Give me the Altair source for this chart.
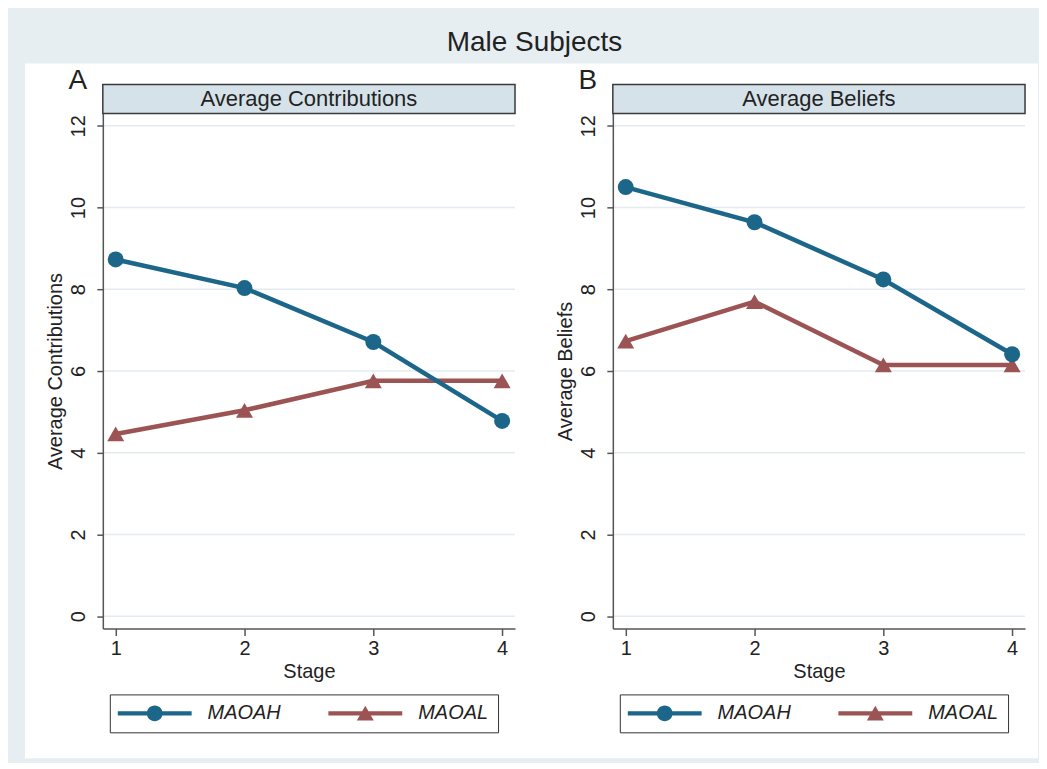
import altair as alt
import pandas as pd

# ---------------- data ----------------
stages = [1, 2, 3, 4]
series = ["MAOAH", "MAOAL"]
contrib_maoah = [8.73, 8.03, 6.71, 4.78]
contrib_maoal = [4.46, 5.04, 5.76, 5.76]
belief_maoah = [10.50, 9.64, 8.24, 6.41]
belief_maoal = [6.73, 7.70, 6.15, 6.15]
y_ticks = [0, 2, 4, 6, 8, 10, 12]
x_ticks = [1, 2, 3, 4]
panel_headers = ["Average Contributions", "Average Beliefs"]
panel_letters = ["A", "B"]
y_titles = ["Average Contributions", "Average Beliefs"]
x_title = "Stage"
main_title = "Male Subjects"

# ---------------- styles ----------------
FONT = "Liberation Sans"
LIGHT = "#e6eef2"
HEADER_FILL = "#d6e2ea"
GRID = "#e3ebf1"
BLUE = "#1c6689"
RED = "#9c5354"
TXT = "#222222"
W, H = 413, 516

# legend symbols: line segment + marker (unit = 8 px at size 256)
PATH_H = ("M-4.625,-0.28H4.625V0.28H-4.625Z "
          "M1,0A1,1 0 1,1 -1,0A1,1 0 1,1 1,0Z")
PATH_L = ("M-4.625,-0.28H4.625V0.28H-4.625Z "
          "M0,-0.95L1.06,0.88L-1.06,0.88Z")

one = alt.Data(values=[{"k": 0}])


def panel(i, maoah, maoal, with_frame):
    df = pd.DataFrame({
        "Stage": stages * 2,
        "Value": maoah + maoal,
        "Series": [series[0]] * len(stages) + [series[1]] * len(stages),
    })
    x_enc = alt.X("Stage:Q",
                  scale=alt.Scale(domain=[0.9, 4.1], nice=False, zero=False),
                  axis=alt.Axis(values=x_ticks, title=x_title, format="d", zindex=2))
    y_enc = alt.Y("Value:Q",
                  scale=alt.Scale(domain=[-0.3, 12.3], nice=False, zero=False),
                  axis=alt.Axis(values=y_ticks, title=y_titles[i], labelAngle=270,
                                labelAlign="center", labelBaseline="middle",
                                labelPadding=18, titlePadding=3, zindex=2))
    layers = []
    if with_frame:
        layers.append(alt.Chart(one).mark_rect(fill=LIGHT).encode(
            x=alt.value(-94), x2=alt.value(937), y=alt.value(-104), y2=alt.value(649)))
        layers.append(alt.Chart(one).mark_rect(fill="white").encode(
            x=alt.value(-78), x2=alt.value(937), y=alt.value(-50), y2=alt.value(646)))
        layers.append(alt.Chart(one).mark_text(
            fontSize=28, align="center", baseline="alphabetic", color=TXT).encode(
            x=alt.value(432.5), y=alt.value(-63), text=alt.value(main_title)))
    layers.append(alt.Chart(pd.DataFrame({"Value": y_ticks})).mark_rule(
        color=GRID, strokeWidth=1.5).encode(y=y_enc))
    layers.append(alt.Chart(one).mark_rect(
        fill=HEADER_FILL, stroke="#3a3a3a", strokeWidth=1.5).encode(
        x=alt.value(0), x2=alt.value(W), y=alt.value(-29), y2=alt.value(0)))
    layers.append(alt.Chart(one).mark_text(
        fontSize=22, align="center", baseline="middle", color=TXT).encode(
        x=alt.value(W / 2), y=alt.value(-15), text=alt.value(panel_headers[i])))
    layers.append(alt.Chart(one).mark_text(
        fontSize=28, align="center", baseline="middle", color=TXT).encode(
        x=alt.value(-25), y=alt.value(-33), text=alt.value(panel_letters[i])))

    low = alt.Chart(df).transform_filter(alt.datum.Series == series[1])
    high = alt.Chart(df).transform_filter(alt.datum.Series == series[0])
    layers.append(low.mark_line(color=RED, strokeWidth=4.5).encode(x=x_enc, y=y_enc))
    layers.append(low.mark_point(shape="triangle-up", filled=True, size=290,
                                 color=RED, opacity=1).encode(x=x_enc, y=y_enc))
    layers.append(high.mark_line(color=BLUE, strokeWidth=4.5).encode(x=x_enc, y=y_enc))
    layers.append(high.mark_point(shape="circle", filled=True, size=256,
                                  color=BLUE, opacity=1).encode(x=x_enc, y=y_enc))

    leg = alt.Legend(title=None, orient="none", legendX=7, legendY=582,
                     direction="horizontal", columns=2, symbolSize=256,
                     symbolStrokeWidth=0, symbolOffset=26, labelOffset=43,
                     columnPadding=47, padding=9, strokeColor="#333333",
                     fillColor="white", labelFont=FONT, labelFontSize=20,
                     labelFontStyle="italic", labelColor=TXT)
    layers.append(alt.Chart(df).transform_filter("false").mark_point(
        filled=True, opacity=1, size=256).encode(
        color=alt.Color("Series:N", scale=alt.Scale(domain=series, range=[BLUE, RED]), legend=leg),
        shape=alt.Shape("Series:N", scale=alt.Scale(domain=series, range=[PATH_H, PATH_L]), legend=leg),
    ))
    return alt.layer(*layers).properties(width=W, height=H)


chart = alt.hconcat(
    panel(0, contrib_maoah, contrib_maoal, True),
    panel(1, belief_maoah, belief_maoal, False),
    spacing=98, bounds="flush",
).resolve_scale(
    color="independent", shape="independent"
).resolve_legend(
    color="independent", shape="independent"
).properties(padding=0).configure(
    font=FONT, background=LIGHT
).configure_view(
    stroke="transparent"
).configure_axis(
    grid=False, domainColor="#555555", domainWidth=1.5,
    tickColor="#555555", tickWidth=1.5, labelFontSize=20, titleFontSize=20,
    labelColor=TXT, titleColor=TXT, titleFontWeight="normal",
    labelFont=FONT, titleFont=FONT,
).configure_axisY(
    tickSize=6,
).configure_axisX(
    tickSize=7, labelPadding=3, titlePadding=3,
)

chart.save("out.html", embed_options={"renderer": "svg", "actions": False})
